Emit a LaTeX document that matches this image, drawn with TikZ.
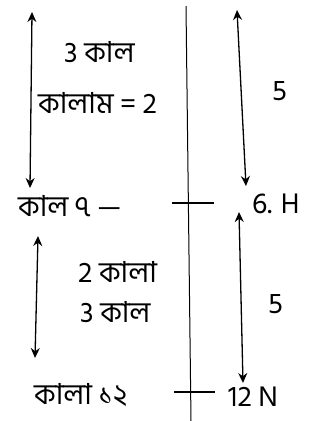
\documentclass[tikz,border=0pt]{standalone}
\usepackage{fontspec}
\setmainfont{Hind Siliguri}
\newfontfamily\bnfont[Script=Bengali]{Hind Siliguri}
\usetikzlibrary{arrows.meta,positioning}

\begin{document}
\begin{tikzpicture}[x=1pt, y=-1pt,
  hand/.style={font=\bnfont\fontsize{29}{30}\selectfont, inner sep=0pt, anchor=base west},
  span/.style={{Stealth[length=10pt,width=9pt]}-{Stealth[length=10pt,width=9pt]}, line width=1.3pt},
  axisline/.style={line width=1pt},
  tick/.style={line width=1.3pt},
]
\useasboundingbox (0,0) rectangle (322,421);
% central line
\coordinate (axtop) at (186,6);
\coordinate (axbot) at (191,421);
\draw[axisline] (axtop) -- (axbot);
% left side, upper part
\coordinate (la1) at (32,12);
\coordinate (lb1) at (30,188);
\draw[span] (la1) -- (lb1);
\node[hand] (kalthree) at (64,62) {3 কাল};
\node[hand] (kalam) at (38,113) {কালাম = 2};
\node[hand] (kalseven) at (18,216) {কাল ৭ —};
% left side, lower part
\coordinate (la2) at (38,236);
\coordinate (lb2) at (35,358);
\draw[span] (la2) -- (lb2);
\node[hand] (twokala) at (78,282) {2 কালা};
\node[hand] (threekal) at (80,322) {3 কাল};
\node[hand] (kalatwelve) at (34,404) {কালা ১২};
% ticks on the line
\coordinate (t1a) at (172,203);
\coordinate (t1b) at (214,203);
\draw[tick] (t1a) -- (t1b);
\coordinate (t2a) at (174,392);
\coordinate (t2b) at (215,392);
\draw[tick] (t2a) -- (t2b);
% right side
\coordinate (ra1) at (237,10);
\coordinate (rb1) at (246,186);
\draw[span] (ra1) -- (rb1);
\node[hand] (fiveup) at (272,100) {5};
\node[hand] (sixh) at (252,213) {6. H};
\coordinate (ra2) at (239,212);
\coordinate (rb2) at (243,383);
\draw[span] (ra2) -- (rb2);
\node[hand] (fivedown) at (268,313) {5};
\node[hand] (twelven) at (228,406) {12 N};
\end{tikzpicture}
\end{document}
